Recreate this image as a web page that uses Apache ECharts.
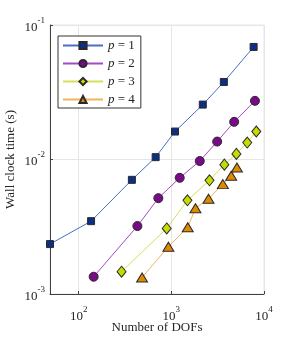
<!DOCTYPE html>
<html><head><meta charset="utf-8">
<script src="https://cdn.jsdelivr.net/npm/echarts@6/dist/echarts.min.js"></script>
<style>html,body{margin:0;padding:0;background:#fff}#c{width:291px;height:339px}</style>
</head><body><div id="c"></div>
<script>
const seriesNames = ['p = 1', 'p = 2', 'p = 3', 'p = 4'];
const dofsP1 = [49, 136, 375, 677, 1095, 2185, 3687, 7727];
const timeP1 = [0.00235, 0.00348, 0.00706, 0.01041, 0.01614, 0.0256, 0.0377, 0.0687];
const dofsP2 = [145, 430, 724, 1231, 2026, 3122, 4767, 7985];
const timeP2 = [0.001344, 0.0032, 0.00516, 0.00731, 0.00974, 0.01359, 0.01905, 0.0273];
const dofsP3 = [290, 891, 1492, 2582, 3735, 5036, 6592, 8255];
const timeP3 = [0.001465, 0.00307, 0.00497, 0.0070, 0.00916, 0.01101, 0.01337, 0.01615];
const dofsP4 = [483, 929, 1503, 1821, 2518, 3597, 4425, 5101];
const timeP4 = [0.001328, 0.002245, 0.003133, 0.004337, 0.005102, 0.006561, 0.00757, 0.00871];
const xMin = 49, xMax = 10000, yMin = 0.001, yMax = 0.1;
const xLabel = 'Number of DOFs';
const yLabel = 'Wall clock time (s)';

const font = 'Liberation Serif';
const zip = (a, b) => a.map((v, i) => [v, b[i]]);
const styles = [
  {line: '#4a6fc6', fill: '#0c2f86', sym: 'rect', size: 7},
  {line: '#a44bc2', fill: '#780a88', sym: 'circle', size: 9},
  {line: '#d8de5a', fill: '#c6dc00', sym: 'diamond', size: [9, 11]},
  {line: '#eeb45c', fill: '#e08a00', sym: 'triangle', size: [11, 9]}
];
const allData = [zip(dofsP1, timeP1), zip(dofsP2, timeP2), zip(dofsP3, timeP3), zip(dofsP4, timeP4)];
const pow10 = v => {
  const l = Math.log10(v), e = Math.round(l);
  if (Math.abs(l - e) > 1e-6) return '';
  return '{b|10}{s|' + e + '}';
};
const rich = {
  b: {fontFamily: font, fontSize: 13, color: '#262626', verticalAlign: 'bottom'},
  s: {fontFamily: font, fontSize: 9, color: '#262626', verticalAlign: 'top', padding: [0, 0, 9, 0]}
};
const chart = echarts.init(document.getElementById('c'), null, {renderer: 'canvas'});
chart.setOption({
  animation: false,
  backgroundColor: '#fff',
  grid: {left: 50, right: 27, top: 25, bottom: 45, show: true, borderColor: '#e6e6e6', borderWidth: 1,
         containLabel: false, outerBoundsMode: 'none'},
  legend: {
    left: 58, top: 36, orient: 'vertical', backgroundColor: '#fff',
    borderColor: '#333', borderWidth: 1, padding: [3, 6, 2, 4], itemGap: 5,
    itemWidth: 40, itemHeight: 9,
    data: seriesNames,
    formatter: n => '{i|p}{t|' + n.slice(1) + '}',
    textStyle: {lineHeight: 10, rich: {
      i: {fontFamily: font, fontStyle: 'italic', fontSize: 13, color: '#222', lineHeight: 10},
      t: {fontFamily: font, fontSize: 13, color: '#222', lineHeight: 10}
    }}
  },
  xAxis: {
    type: 'log', logBase: 10, min: xMin, max: xMax,
    name: xLabel, nameLocation: 'middle', nameGap: 27, nameMoveOverlap: false,
    nameTextStyle: {fontFamily: font, fontSize: 13, color: '#262626'},
    axisLine: {lineStyle: {color: '#404040'}},
    axisTick: {inside: true, length: 3, lineStyle: {color: '#404040'}},
    minorTick: {show: false},
    splitLine: {show: true, lineStyle: {color: '#e6e6e6'}},
    axisLabel: {formatter: pow10, rich: rich, margin: 11}
  },
  yAxis: {
    type: 'log', logBase: 10, min: yMin, max: yMax,
    name: yLabel, nameLocation: 'middle', nameGap: 33, nameMoveOverlap: false,
    nameTextStyle: {fontFamily: font, fontSize: 13, color: '#262626'},
    axisLine: {show: true, lineStyle: {color: '#404040'}},
    axisTick: {show: true, inside: true, length: 3, lineStyle: {color: '#404040'}},
    splitLine: {show: true, lineStyle: {color: '#e6e6e6'}},
    axisLabel: {formatter: pow10, rich: rich, margin: 5}
  },
  series: allData.map((d, i) => ({
    name: seriesNames[i], type: 'line', data: d,
    symbol: styles[i].sym, symbolSize: styles[i].size, showSymbol: true,
    lineStyle: {color: styles[i].line, width: 1},
    itemStyle: {color: styles[i].fill, borderColor: '#2a2a2a', borderWidth: 1},
    z: 2 + i
  }))
});
</script></body></html>
